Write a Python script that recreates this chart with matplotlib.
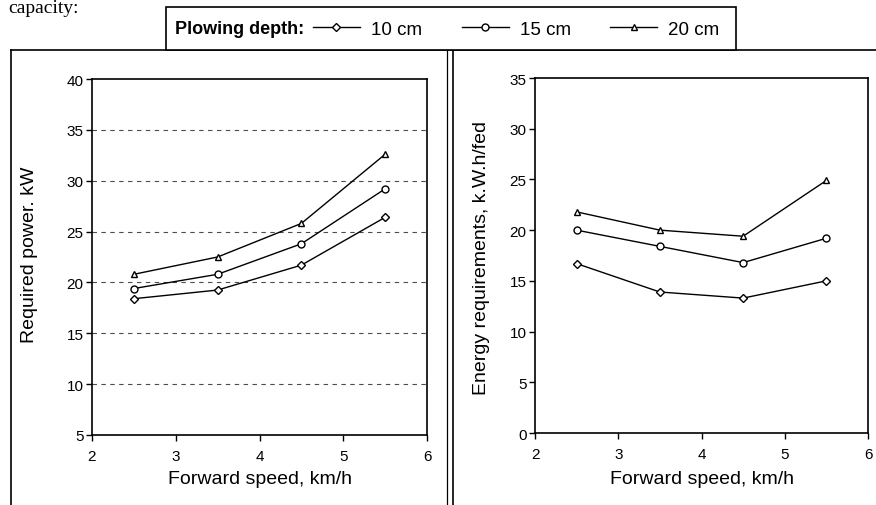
import matplotlib
matplotlib.use("Agg")
import matplotlib.pyplot as plt
from matplotlib.lines import Line2D
from matplotlib.patches import Rectangle

plt.rcParams['font.family'] = ['Liberation Sans', 'DejaVu Sans']

# data
speed = [2.5, 3.5, 4.5, 5.5]
depths = ['10 cm', '15 cm', '20 cm']
markers = ['D', 'o', '^']
power = {
    '10 cm': [18.4, 19.25, 21.7, 26.4],
    '15 cm': [19.4, 20.8, 23.8, 29.2],
    '20 cm': [20.8, 22.5, 25.8, 32.6],
}
energy = {
    '10 cm': [16.7, 13.9, 13.3, 15.0],
    '15 cm': [20.0, 18.4, 16.8, 19.2],
    '20 cm': [21.8, 20.0, 19.4, 24.9],
}

W, H = 876, 506
fig = plt.figure(figsize=(W / 100, H / 100), dpi=100)


def px_axes(x0, y0, x1, y1):
    # pixel box (top-left origin) -> figure fraction
    return fig.add_axes([x0 / W, 1 - y1 / H, (x1 - x0) / W, (y1 - y0) / H])


ax1 = px_axes(92, 80, 427, 436)
ax2 = px_axes(535, 79, 868, 434)

handles = []
for d, m in zip(depths, markers):
    ms = 4.5 if m == 'D' else 5
    h, = ax1.plot(speed, power[d], color='black', lw=1, marker=m, ms=ms,
                  mfc='white', mec='black', mew=1, label=d)
    ax2.plot(speed, energy[d], color='black', lw=1, marker=m, ms=ms,
             mfc='white', mec='black', mew=1)
    handles.append(h)

ax1.set_ylim(5, 40)
ax1.set_yticks(range(5, 41, 5))
ax2.set_ylim(0, 35)
ax2.set_yticks(range(0, 36, 5))

for ax in (ax1, ax2):
    ax.set_xlim(2, 6)
    ax.set_xticks(range(2, 7))
    ax.tick_params(direction='out', length=4, width=1, labelsize=11, colors='black')
    ax.tick_params(axis='x', pad=6)
    ax.tick_params(axis='y', pad=2)
    for s in ax.spines.values():
        s.set_linewidth(1.2)
    ax.set_xlabel('Forward speed, km/h', fontsize=14, va='center')

ax1.xaxis.set_label_coords(0.5, -(480 - 436) / 356)
ax2.xaxis.set_label_coords(0.5, -(480 - 434) / 355)

# dashed horizontal grid only on the power panel
for yv in range(10, 40, 5):
    ax1.axhline(yv, color='0.3', lw=0.8, ls=(0, (4, 4)), zorder=0)

ax1.set_ylabel('Required power. kW', fontsize=14, va='center')
ax1.yaxis.set_label_coords((30 - 92) / 335, (436 - 255) / 356)
ax2.set_ylabel('Energy requirements, k.W.h/fed', fontsize=14, va='center')
ax2.yaxis.set_label_coords((481 - 535) / 333, (434 - 258) / 355)


# panel frames
def fline(x0, y0, x1, y1, lw=1.2):
    fig.add_artist(Line2D([x0 / W, x1 / W], [1 - y0 / H, 1 - y1 / H],
                          color='black', lw=lw))


fline(11, 51, 876, 51)
fline(11, 51, 11, 506)
fline(447, 51, 447, 506, lw=0.9)
fline(453, 51, 453, 506)

# legend box
fig.add_artist(Rectangle((166 / W, 1 - 51 / H), (736 - 166) / W, 43 / H,
                         transform=fig.transFigure, facecolor='white',
                         edgecolor='black', lw=1.2, zorder=5))
fig.text(175 / W, 1 - 30 / H, 'Plowing depth:', fontsize=13,
         fontweight='bold', va='center', ha='left', zorder=6)
leg = fig.legend(handles=handles, labels=depths, ncol=3, frameon=False,
                 loc='center left', bbox_to_anchor=(313 / W, 1 - 30 / H),
                 borderpad=0, borderaxespad=0, fontsize=13.5,
                 handlelength=2.5, handletextpad=0.6, columnspacing=2.1)
leg.set_zorder(6)

# caption text from the scanned page above the figure
fig.text(8 / W, 1 - 13 / H, 'capacity:', family='Liberation Serif',
         fontsize=14, va='baseline', ha='left')

fig.savefig('out.png', dpi=100)
